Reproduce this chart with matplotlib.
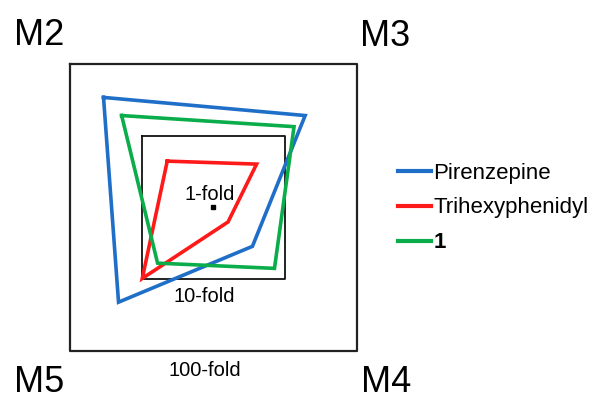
import numpy as np
import matplotlib
matplotlib.use('Agg')
import matplotlib.pyplot as plt

plt.rcParams['font.family'] = ['Liberation Sans', 'DejaVu Sans']

# fold selectivity per receptor (corners: M2 top-left, M3 top-right, M4 bottom-right, M5 bottom-left)
receptors = ['M2', 'M3', 'M4', 'M5']
pirenzepine = [34, 19, 3.5, 21]
trihexyphenidyl = [4.4, 4.0, 1.6, 9.8]
compound1 = [19, 13.3, 7.1, 6.0]
ring_folds = [10, 100]
series = [('Pirenzepine', pirenzepine, '#1f6fc8'),
          ('Trihexyphenidyl', trihexyphenidyl, '#ff1a1a'),
          ('1', compound1, '#0aad4a')]

dirs = np.array([[-1, 1], [1, 1], [1, -1], [-1, -1]])

# map pixel layout: centre of the squares and pixels per decade
W, H = 593, 394
cx, cy, s = 213.4, 207.3, 71.75

fig = plt.figure(figsize=(W / 100, H / 100), dpi=100)
ax = fig.add_axes([0, 0, 1, 1])
ax.set_xlim(-cx / s, (W - cx) / s)
ax.set_ylim((cy - H) / s, cy / s)
ax.axis('off')

# reference squares (10-fold, 100-fold) and 1-fold centre dot
for f, lw, c in zip(ring_folds, [1.3, 1.6], ['#111111', '#222222']):
    r = np.log10(f)
    sq = np.vstack([dirs * r, dirs[:1] * r])
    ax.plot(sq[:, 0], sq[:, 1], color=c, lw=lw, zorder=1)
ax.plot(0, 0, marker='s', ms=3, color='black', zorder=1)

handles = []
for name, vals, col in series:
    r = np.log10(np.array(vals))[:, None]
    pts = dirs * r
    pts = np.vstack([pts, pts[:1]])
    h, = ax.plot(pts[:, 0], pts[:, 1], color=col, lw=2.6, solid_joinstyle='miter', zorder=3)
    handles.append(h)

ax.text(210 / W, 1 - 194 / H, '1-fold', transform=ax.transAxes, ha='center', va='center', fontsize=14.5)
ax.text(204 / W, 1 - 296 / H, '10-fold', transform=ax.transAxes, ha='center', va='center', fontsize=14.5)
ax.text(204.5 / W, 1 - 371 / H, '100-fold', transform=ax.transAxes, ha='center', va='center', fontsize=14.5)

label_pos = {'M2': (14, 45), 'M3': (360, 46), 'M4': (361, 392), 'M5': (14, 392)}
for m in receptors:
    x, y = label_pos[m]
    ax.text(x / W, 1 - y / H, m, transform=ax.transAxes, ha='left', va='baseline', fontsize=26)

leg = ax.legend(handles, [n for n, _, _ in series], loc='center left',
                bbox_to_anchor=(389 / W, 1 - 208 / H), frameon=False, fontsize=16,
                handlelength=1.5, handletextpad=0.1, labelspacing=0.62, borderaxespad=0)
for line in leg.get_lines():
    line.set_linewidth(3)
leg.get_texts()[2].set_fontweight('bold')

fig.savefig('out.png', dpi=100)
